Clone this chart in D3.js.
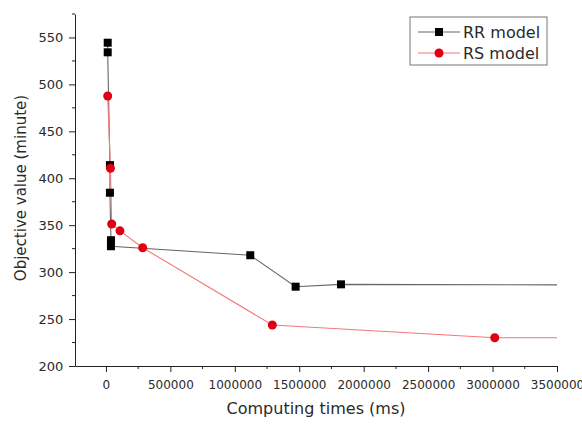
<!DOCTYPE html>
<html>
<head>
<meta charset="utf-8">
<script src="https://cdn.jsdelivr.net/npm/d3@7"></script>
<style>
  body { margin: 0; background: #fff; }
  text { font-family: "DejaVu Sans", sans-serif; fill: #2a2a2a; }
</style>
</head>
<body>
<svg width="582" height="425"></svg>
<script>
// data (ms, minute)
var rr_x = [13700, 13700, 31000, 31000, 39000, 39000, 1120000, 1472000, 1824000, 3700000] ;
var rr_y = [544.4, 534.2, 414, 384.6, 334, 327.6, 318, 284.5, 287, 286.3] ;
var rs_x = [13700, 35000, 44700, 109000, 285000, 1291000, 3017000, 3700000] ;
var rs_y = [487.6, 410.6, 351.3, 344, 326, 243.7, 230.1, 230] ;
var x_ticks = [0, 500000, 1000000, 1500000, 2000000, 2500000, 3000000, 3500000] ;
var y_ticks = [200, 250, 300, 350, 400, 450, 500, 550] ;
var series_names = ["RR model", "RS model"] ;

var svg = d3.select("svg") ;
var x = d3.scaleLinear().domain([-240000, 3500000]).range([75, 557]) ;
var y = d3.scaleLinear().domain([200, 575]).range([366, 14]) ;

// clip so the lines stop at the axis end
svg.append("clipPath").attr("id", "plot")
  .append("rect")
    .attr("x", 75).attr("y", 0)
    .attr("width", 482).attr("height", 366) ;

var minor_x = d3.range(-250000, 3500001, 250000).filter(function(d){ return d % 500000 != 0 && d >= -240000 ; }) ;
var minor_y = d3.range(225, 576, 50) ;

// x axis
var gx = svg.append("g").attr("transform", "translate(0,366)") ;
gx.call(d3.axisBottom(x).tickValues(x_ticks).tickSize(6).tickSizeOuter(0).tickFormat(d3.format("d")))
gx.selectAll("text").style("font-size", "12px").attr("dy", "1.2em") ;
gx.selectAll(".minor").data(minor_x).enter().append("line")
  .attr("x1", function(d){ return x(d) ; }).attr("x2", function(d){ return x(d) ; })
  .attr("y1", 0).attr("y2", 3).attr("stroke", "#222") ;

// y axis
var gy = svg.append("g").attr("transform", "translate(75,0)") ;
gy.call(d3.axisLeft(y).tickValues(y_ticks).tickSize(6).tickSizeOuter(0)) ;
gy.selectAll("text").style("font-size", "13px").attr("dx", "-0.2em") ;
gy.selectAll(".minor").data(minor_y).enter().append("line")
  .attr("y1", function(d){ return y(d) ; }).attr("y2", function(d){ return y(d) ; })
  .attr("x1", 0).attr("x2", -3).attr("stroke", "#222") ;
svg.selectAll(".domain, .tick line").attr("stroke", "#222") ;

// axis titles
svg.append("text")
  .attr("x", 316).attr("y", 414)
  .attr("text-anchor", "middle")
  .style("font-size", "16px")
  .text("Computing times (ms)") ;
svg.append("text")
  .attr("transform", "translate(26,188) rotate(-90)")
  .attr("text-anchor", "middle")
  .style("font-size", "15px")
  .text("Objective value (minute)") ;

// lines
var line = d3.line()
  .x(function(d){ return x(d[0]) ; })
  .y(function(d){ return y(d[1]) ; }) ;
var rr = d3.zip(rr_x, rr_y) ;
var rs = d3.zip(rs_x, rs_y) ;
var plot = svg.append("g").attr("clip-path", "url(#plot)") ;
plot.append("path").attr("d", line(rr))
  .attr("fill", "none").attr("stroke", "#666").attr("stroke-width", 1.1) ;
plot.append("path").attr("d", line(rs))
  .attr("fill", "none").attr("stroke", "#f27a7a").attr("stroke-width", 1.1) ;

// markers
plot.selectAll(".sq").data(rr).enter().append("rect")
  .attr("x", function(d){ return x(d[0]) - 4 ; })
  .attr("y", function(d){ return y(d[1]) - 4 ; })
  .attr("width", 8).attr("height", 8)
  .style("fill", "#000") ;
plot.selectAll(".ci").data(rs).enter().append("circle")
  .attr("cx", function(d){ return x(d[0]) ; })
  .attr("cy", function(d){ return y(d[1]) ; })
  .attr("r", 4.5)
  .style("fill", "#e00012") ;

// legend
var lg = svg.append("g") ;
lg.append("rect")
  .attr("x", 410).attr("y", 17).attr("width", 137).attr("height", 48)
  .attr("fill", "#fff").attr("stroke", "#777") ;
series_names.forEach(function(name, i){
  var ly = 32 + i * 21 ;
  lg.append("line").attr("x1", 418).attr("x2", 460).attr("y1", ly).attr("y2", ly)
    .attr("stroke", i == 0 ? "#666" : "#f27a7a").attr("stroke-width", 1.1) ;
  if (i == 0) {
    lg.append("rect").attr("x", 435).attr("y", ly - 4).attr("width", 8).attr("height", 8).style("fill", "#000") ;
  } else {
    lg.append("circle").attr("cx", 439).attr("cy", ly).attr("r", 4.5).style("fill", "#e00012") ;
  }
  lg.append("text").attr("x", 463).attr("y", ly + 6)
    .style("font-size", "16px")
    .text(name) ;
}) ;
</script>
</body>
</html>
